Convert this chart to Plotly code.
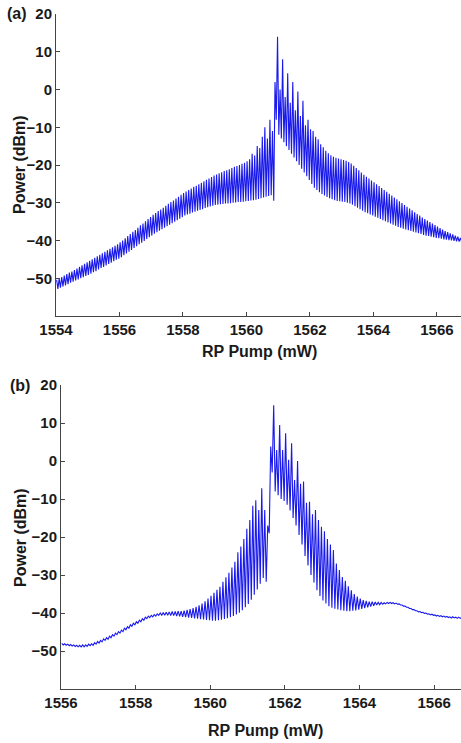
import plotly.graph_objects as go

# ---------------- Panel (a) ----------------
a_start = 1554.02
a_step = 0.08
a_peak = [
    -50.4, -50.1, -49.7, -49.3, -48.9, -48.5, -48.2, -47.8, -47.4, -47.0, -46.6, -46.2, -45.8,
    -45.4, -45.0, -44.6, -44.2, -43.8, -43.4, -43.0, -42.6, -42.2, -41.8, -41.4, -41.0,
    -40.5, -40.0, -39.4, -38.8, -38.3, -37.7, -37.2, -36.6, -36.0, -35.5, -34.9, -34.3, -33.8,
    -33.2, -32.7, -32.2, -31.8, -31.3, -30.8, -30.3, -29.8, -29.4, -28.9, -28.4, -27.9,
    -27.4, -27.0, -26.6, -26.2, -25.8, -25.5, -25.1, -24.7, -24.3, -23.9, -23.6, -23.2, -22.8,
    -22.5, -22.2, -21.9, -21.6, -21.4, -21.1, -20.8, -20.5, -20.3, -20.0, -19.7, -19.4,
    -19.0, -18.5, -17.0, -17.5, -15.0, -15.5, -12.5, -10.0, -13.0, -8.0, -11.0, 2.0,
    14.0, 0.0, 8.0, -2.0, 4.3, -3.5, 2.0, -5.5, -0.5, -7.0, -3.0, -9.5, -8.0, -10.5, -11.0,
    -12.5, -13.2, -14.5, -15.3, -16.2, -16.9, -17.4, -17.8, -18.1, -18.3, -18.5, -18.7, -18.9,
    -19.2, -19.6, -20.2, -20.8, -21.4, -22.0, -22.6, -23.1, -23.6, -24.1, -24.6, -25.1,
    -25.6, -26.1, -26.6, -27.1, -27.6, -28.1, -28.6, -29.1, -29.6, -30.1, -30.6, -31.1,
    -31.5, -32.0, -32.5, -33.0, -33.4, -33.9, -34.3, -34.7, -35.1, -35.5, -35.9, -36.3,
    -36.7, -37.1, -37.5, -37.8, -38.1, -38.4, -38.7, -39.0, -39.3, -39.5,
]
a_trough = [
    -52.8, -52.5, -52.2, -51.9, -51.6, -51.2, -50.9, -50.6, -50.3, -50.0, -49.7, -49.4, -49.1,
    -48.8, -48.4, -48.1, -47.7, -47.3, -47.0, -46.6, -46.2, -45.9, -45.5, -45.1, -44.8,
    -44.4, -43.9, -43.4, -43.0, -42.5, -42.0, -41.5, -41.0, -40.6, -40.1, -39.6, -39.1, -38.7,
    -38.2, -37.8, -37.4, -37.0, -36.6, -36.2, -35.8, -35.4, -35.0, -34.6, -34.2, -33.8,
    -33.4, -33.1, -32.9, -32.6, -32.4, -32.1, -31.9, -31.7, -31.4, -31.2, -31.0, -30.8, -30.6,
    -30.5, -30.4, -30.3, -30.2, -30.2, -30.1, -30.0, -29.9, -29.8, -29.8, -29.7, -29.6,
    -29.5, -29.4, -29.3, -29.2, -29.0, -28.8, -28.6, -28.4, -28.2, -28.0, -29.5, -8.0,
    -12.0, -13.0, -14.0, -15.0, -16.0, -17.0, -18.0, -19.0, -20.0, -21.0, -22.0, -23.0, -24.0, -25.0, -26.0,
    -26.6, -27.2, -27.7, -28.1, -28.5, -28.8, -29.1, -29.3, -29.5, -29.6, -29.7, -29.8, -30.0,
    -30.2, -30.5, -30.9, -31.3, -31.7, -32.1, -32.5, -32.8, -33.1, -33.4, -33.7, -34.0,
    -34.3, -34.6, -34.9, -35.2, -35.5, -35.8, -36.1, -36.4, -36.6, -36.9, -37.1, -37.3,
    -37.5, -37.7, -37.9, -38.1, -38.3, -38.5, -38.7, -38.8, -39.0, -39.1, -39.3, -39.4,
    -39.5, -39.7, -39.8, -39.9, -40.0, -40.1, -40.2, -40.3, -40.4, -40.5,
]

# ---------------- Panel (b) ----------------
b_start = 1556.02
b_step = 0.08
b_peak = [
    -48.0, -48.1, -48.2, -48.3, -48.4, -48.5, -48.5, -48.4, -48.4, -48.2, -48.1, -47.8, -47.5,
    -47.2, -46.8, -46.5, -46.1, -45.7, -45.3, -44.9, -44.5, -44.0, -43.6, -43.1, -42.7,
    -42.3, -41.9, -41.5, -41.1, -40.8, -40.6, -40.4, -40.2, -40.0,
    -39.9, -39.8, -39.7, -39.6, -39.6, -39.5, -39.5, -39.4, -39.2, -39.0, -38.7, -38.4,
    -38.0, -37.5, -36.9, -36.2, -35.5, -34.7, -33.9, -33.1, -31.8, -30.6, -29.4, -28.0,
    -26.5, -24.0, -22.5, -20.5, -17.8, -15.5, -11.8, -10.3, -12.9, -7.2, -12.9, -17.0,
    3.8, 14.7,
    2.9, 9.5, 2.9, 7.3, 0.3, 4.7, -5.0, 0.0, -6.0, -5.4, -11.0, -10.7, -14.0, -12.9,
    -15.5, -17.3, -18.5, -20.5, -22.0, -23.4, -27.0, -28.7, -30.5, -31.5, -33.0, -34.0,
    -35.0, -35.7, -36.2, -36.6, -36.8, -37.0, -37.0, -37.1, -37.2, -37.2,
    -37.3, -37.2, -37.2, -37.3, -37.4, -37.6, -37.9, -38.2, -38.5, -38.8, -39.1, -39.4,
    -39.6, -39.8, -40.0, -40.2, -40.3, -40.5, -40.6, -40.7, -40.8, -40.9, -41.0, -41.0,
    -41.1, -41.1, -41.2,
]
b_trough = [
    -48.4, -48.5, -48.6, -48.7, -48.8, -48.9, -48.9, -48.9, -48.8, -48.6, -48.5, -48.2, -47.9,
    -47.6, -47.2, -46.9, -46.5, -46.1, -45.7, -45.3, -44.9, -44.4, -44.0, -43.5, -43.1,
    -42.7, -42.3, -41.9, -41.5, -41.2, -41.0, -40.8, -40.6, -40.6,
    -40.6, -40.6, -40.7, -40.7, -40.8, -40.9, -41.0, -41.1, -41.2, -41.3, -41.4, -41.5,
    -41.6, -41.7, -41.8, -41.9, -42.0, -42.0, -41.9, -41.8, -41.6, -41.4, -41.1, -40.8,
    -40.4, -39.9, -39.3, -38.5, -37.6, -36.5, -35.2, -33.8, -32.3, -30.8, -31.8, -19.0,
    -3.0, -8.0,
    -9.0, -10.0, -10.5, -11.5, -13.0, -15.0, -17.0, -19.5, -22.0, -25.0, -27.5, -30.0, -32.0, -34.0,
    -35.5, -36.7, -37.5, -38.2, -38.6, -38.9, -39.1, -39.3, -39.4, -39.5, -39.5, -39.4,
    -39.3, -39.1, -38.9, -38.7, -38.5, -38.3, -38.1, -37.9, -37.8, -37.7,
    -37.6, -37.5, -37.5, -37.6, -37.7, -37.9, -38.2, -38.5, -38.8, -39.1, -39.4, -39.7,
    -39.9, -40.1, -40.3, -40.5, -40.6, -40.8, -40.9, -41.0, -41.1, -41.2, -41.3, -41.3,
    -41.4, -41.4, -41.5,
]

x_ticks_a = [1554, 1556, 1558, 1560, 1562, 1564, 1566]
x_ticks_b = [1556, 1558, 1560, 1562, 1564, 1566]
y_ticks = [-50, -40, -30, -20, -10, 0, 10, 20]


def comb_trace(start, step, peaks, troughs):
    xs, ys = [], []
    for i, (p, t) in enumerate(zip(peaks, troughs)):
        w = start + step * i
        xs += [w, w + step / 2]
        ys += [p, t]
    return xs, ys


xa, ya = comb_trace(a_start, a_step, a_peak, a_trough)
xb, yb = comb_trace(b_start, b_step, b_peak, b_trough)

W, H = 461, 743
line_col = "rgb(25,25,235)"
fig = go.Figure()
fig.add_trace(go.Scatter(x=xa, y=ya, mode="lines", line=dict(color=line_col, width=1.1),
                         xaxis="x", yaxis="y", showlegend=False))
fig.add_trace(go.Scatter(x=xb, y=yb, mode="lines", line=dict(color=line_col, width=1.1),
                         xaxis="x2", yaxis="y2", showlegend=False))

FONT = "Liberation Sans, Arial, sans-serif"
tickfont = dict(family=FONT, size=15, color="#1a1a1a", weight="bold")
axis_common = dict(showgrid=False, zeroline=False, showline=True, linecolor="#444",
                   linewidth=1, ticks="inside", ticklen=4, tickcolor="#444",
                   tickfont=tickfont, mirror=False, automargin=False)


def px_x(p):
    return p / W


def px_y(p):
    return 1 - p / H


fig.update_layout(
    template="none",
    width=W, height=H,
    margin=dict(l=0, r=0, t=0, b=0, pad=0),
    paper_bgcolor="white", plot_bgcolor="white",
    xaxis=dict(domain=[px_x(56), 1.0], range=[1554, 1566.76], tickvals=x_ticks_a,
               anchor="y", **axis_common),
    yaxis=dict(domain=[px_y(316), px_y(14)], range=[-60, 20], tickvals=y_ticks,
               anchor="x", **axis_common),
    xaxis2=dict(domain=[px_x(61), 1.0], range=[1556, 1566.72], tickvals=x_ticks_b,
                anchor="y2", **axis_common),
    yaxis2=dict(domain=[px_y(689), px_y(385)], range=[-60, 20], tickvals=y_ticks,
                anchor="x2", **axis_common),
)

title_font = dict(family=FONT, size=16, color="#1a1a1a", weight="bold")
annos = [
    dict(text="Power (dBm)", x=px_x(19), y=px_y(165), textangle=-90),
    dict(text="Power (dBm)", x=px_x(20), y=px_y(538), textangle=-90),
    dict(text="RP Pump (mW)", x=px_x(259), y=px_y(352)),
    dict(text="RP Pump (mW)", x=px_x(265), y=px_y(730)),
    dict(text="(a)", x=px_x(17), y=px_y(14)),
    dict(text="(b)", x=px_x(20), y=px_y(385)),
]
for a in annos:
    fig.add_annotation(xref="paper", yref="paper", showarrow=False, font=title_font,
                       xanchor="center", yanchor="middle", **a)

fig.write_html("out.html",
               config={"displayModeBar": False},
               post_script="document.body.style.margin='0';document.body.style.overflow='hidden';")
